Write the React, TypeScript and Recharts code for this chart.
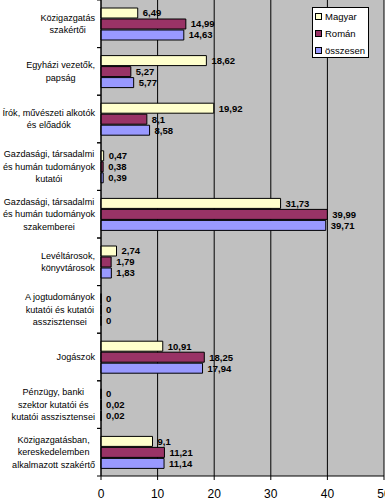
import { Bar, BarChart, CartesianGrid, LabelList, XAxis, YAxis } from "recharts";

const categories = [
  "Közigazgatás\nszakértői",
  "Egyházi vezetők,\npapság",
  "Írók, művészeti alkotók\nés előadók",
  "Gazdasági, társadalmi\nés humán tudományok\nkutatói",
  "Gazdasági, társadalmi\nés humán tudományok\nszakemberei",
  "Levéltárosok,\nkönyvtárosok",
  "A jogtudományok\nkutatói és kutatói\nasszisztensei",
  "Jogászok",
  "Pénzügy, banki\nszektor kutatói és\nkutatói asszisztensei",
  "Közigazgatásban,\nkereskedelemben\nalkalmazott szakértő",
];
const magyar = [6.49, 18.62, 19.92, 0.47, 31.73, 2.74, 0, 10.91, 0, 9.1];
const roman = [14.99, 5.27, 8.1, 0.38, 39.99, 1.79, 0, 18.25, 0.02, 11.21];
const osszesen = [14.63, 5.77, 8.58, 0.39, 39.71, 1.83, 0, 17.94, 0.02, 11.14];
const xTicks = [0, 10, 20, 30, 40, 50];

const series = [
  { key: "magyar", name: "Magyar", color: "#ffffcc" },
  { key: "roman", name: "Román", color: "#993366" },
  { key: "osszesen", name: "összesen", color: "#9999ff" },
];

const data = categories.map((name, i) => ({
  name,
  magyar: magyar[i],
  roman: roman[i],
  osszesen: osszesen[i],
}));

const FONT = "'Liberation Sans', Arial, sans-serif";
const CAT_FS = 9.1;
const PLOT_H = 476;
const BAND = PLOT_H / categories.length;

let ctx: CanvasRenderingContext2D | null = null;
function textWidth(s: string) {
  if (!ctx) ctx = document.createElement("canvas").getContext("2d");
  if (!ctx) return s.length * 5;
  ctx.font = `${CAT_FS}px ${FONT}`;
  return ctx.measureText(s).width;
}

function CategoryTick({ x, y, payload }: any) {
  const lines: string[] = String(payload.value).split("\n");
  const w = Math.max(...lines.map(textWidth));
  const cx = x - w / 2;
  return (
    <g>
      <line x1={x + 2} x2={x + 6} y1={y - BAND / 2} y2={y - BAND / 2} stroke="#000" />
      <line x1={x + 2} x2={x + 6} y1={y + BAND / 2} y2={y + BAND / 2} stroke="#000" />
      <text textAnchor="middle" fontSize={CAT_FS} fontFamily={FONT} fill="#000">
        {lines.map((l, i) => (
          <tspan key={i} x={cx} y={y + (i - (lines.length - 1) / 2) * 12.3} dy="0.35em">
            {l}
          </tspan>
        ))}
      </text>
    </g>
  );
}

function LegendBox() {
  return (
    <div
      style={{
        position: "absolute",
        left: 312,
        top: 7,
        background: "#fff",
        border: "1px solid #000",
        width: 57,
        height: 51,
        fontFamily: FONT,
        fontSize: 9.5,
        color: "#000",
        boxSizing: "border-box",
        paddingTop: 0,
        paddingLeft: 2,
      }}
    >
      {series.map((s) => (
        <div key={s.key} style={{ display: "flex", alignItems: "center", height: 17, lineHeight: "17px" }}>
          <span
            style={{
              display: "inline-block",
              width: 5,
              height: 5,
              background: s.color,
              border: "1px solid #000",
              marginRight: 3,
            }}
          />
          {s.name}
        </div>
      ))}
    </div>
  );
}

const fmt = (v: any) => String(v).replace(".", ",");

function ValueLabel({ x, y, width, height, value }: any) {
  return (
    <text
      x={x + Math.max(width, 0) + 5}
      y={y + height / 2}
      dy="0.35em"
      fill="#000"
      fontSize={9.5}
      fontWeight="bold"
      fontFamily={FONT}
    >
      {fmt(value)}
    </text>
  );
}

export default function App() {
  return (
    <div style={{ position: "absolute", left: 0, top: 0, width: 385, height: 500, background: "#fff" }}>
      <BarChart
        width={385}
        height={500}
        data={data}
        layout="vertical"
        margin={{ top: 0, right: 1, bottom: 0, left: 0 }}
        barSize={10}
        barGap={1}
      >
        <CartesianGrid horizontal={false} fill="#c0c0c0" stroke="#000" fillOpacity={1} />
        <XAxis
          type="number"
          domain={[0, 50]}
          ticks={xTicks}
          height={24}
          axisLine={{ stroke: "#000" }}
          tickLine={{ stroke: "#000" }}
          tickSize={4}
          tickMargin={9}
          tick={{ fill: "#000", fontSize: 12, fontFamily: FONT }}
          interval={0}
        />
        <YAxis
          type="category"
          dataKey="name"
          width={101}
          axisLine={{ stroke: "#000" }}
          tickLine={false}
          tickSize={0}
          tickMargin={6}
          tick={<CategoryTick />}
          interval={0}
        />
        {series.map((s) => (
          <Bar
            key={s.key}
            dataKey={s.key}
            name={s.name}
            fill={s.color}
            stroke="#000"
            strokeWidth={1}
            minPointSize={0.01}
            isAnimationActive={false}
          >
            <LabelList dataKey={s.key} content={<ValueLabel />} />
          </Bar>
        ))}
      </BarChart>
      <LegendBox />
    </div>
  );
}
